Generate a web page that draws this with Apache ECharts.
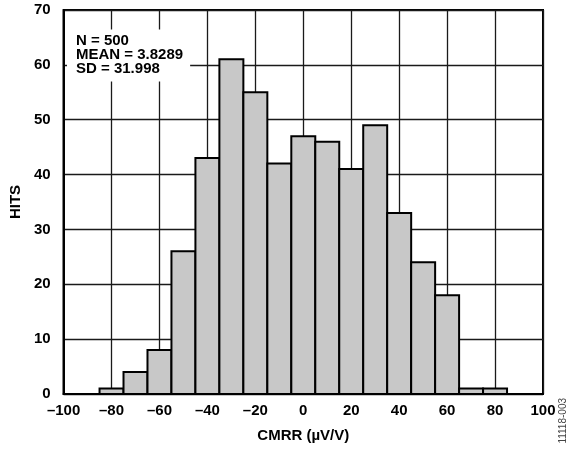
<!DOCTYPE html>
<html>
<head>
<meta charset="utf-8">
<script src="https://cdn.jsdelivr.net/npm/echarts@6/dist/echarts.min.js"></script>
<style>
html,body{margin:0;padding:0;background:#fff;}
#c{width:576px;height:449px;}
</style>
</head>
<body>
<div id="c"></div>
<script>
// Data
const binCenters = [-80, -70, -60, -50, -40, -30, -20, -10, 0, 10, 20, 30, 40, 50, 60, 70, 80];
const hits       = [1, 4, 8, 26, 43, 61, 55, 42, 47, 46, 41, 49, 33, 24, 18, 1, 1];
const binWidth = 10;
const statsLines = ['N = 500', 'MEAN = 3.8289', 'SD = 31.998'];
const xName = 'CMRR (µV/V)';
const yName = 'HITS';
const figCode = '11118-003';

const FONT = '"Liberation Sans", Arial, Helvetica, sans-serif';
const chart = echarts.init(document.getElementById('c'), null, {renderer: 'canvas'});

const data = binCenters.map((c, i) => [c, hits[i]]);

const option = {
  animation: false,
  backgroundColor: '#fff',
  grid: {left: 61, right: 33, top: 10, bottom: 55, show: true, borderColor: '#000', borderWidth: 2, backgroundColor: 'transparent'},
  title: {
    text: statsLines.join('\n'),
    left: 67, top: 30,
    padding: [4, 7, 5, 9],
    backgroundColor: '#fff',
    textStyle: {fontFamily: FONT, fontWeight: 'bold', fontSize: 15, lineHeight: 14, color: '#000'}
  },
  xAxis: {
    type: 'value', min: -100, max: 100, interval: 20,
    name: xName, nameLocation: 'middle', nameGap: 34,
    nameTextStyle: {fontFamily: FONT, fontWeight: 'bold', fontSize: 15, color: '#000'},
    axisLine: {show: true, onZero: false, lineStyle: {color: '#000', width: 2}},
    axisTick: {show: false},
    splitLine: {show: true, lineStyle: {color: '#1a1a1a', width: 1.3}},
    axisLabel: {
      fontFamily: FONT, fontWeight: 'bold', fontSize: 15, color: '#000', margin: 9,
      formatter: v => (v < 0 ? '\u2013' + Math.abs(v) : String(v))
    }
  },
  yAxis: {
    type: 'value', min: 0, max: 70, interval: 10,
    name: yName, nameLocation: 'middle', nameGap: 40,
    nameTextStyle: {fontFamily: FONT, fontWeight: 'bold', fontSize: 15, color: '#000'},
    axisLine: {show: true, onZero: false, lineStyle: {color: '#000', width: 2}},
    axisTick: {show: false},
    splitLine: {show: true, lineStyle: {color: '#1a1a1a', width: 1.3}},
    axisLabel: {fontFamily: FONT, fontWeight: 'bold', fontSize: 15, color: '#000', margin: 13}
  },
  graphic: [{
    type: 'text', left: 558, top: 398, rotation: Math.PI / 2,
    style: {text: figCode, fontFamily: FONT, fontSize: 10, fill: '#444', textAlign: 'center', textVerticalAlign: 'middle'}
  }],
  series: [{
    type: 'custom',
    data: data,
    encode: {x: 0, y: 1},
    z: 5,
    renderItem: function (params, api) {
      const c = api.value(0), v = api.value(1);
      const p0 = api.coord([c - binWidth / 2, v]);
      const p1 = api.coord([c + binWidth / 2, 0]);
      return {
        type: 'rect',
        shape: {x: p0[0], y: p0[1], width: p1[0] - p0[0], height: p1[1] - p0[1]},
        style: {fill: '#c8c8c8', stroke: '#000', lineWidth: 2}
      };
    }
  }]
};
chart.setOption(option);
</script>
</body>
</html>
